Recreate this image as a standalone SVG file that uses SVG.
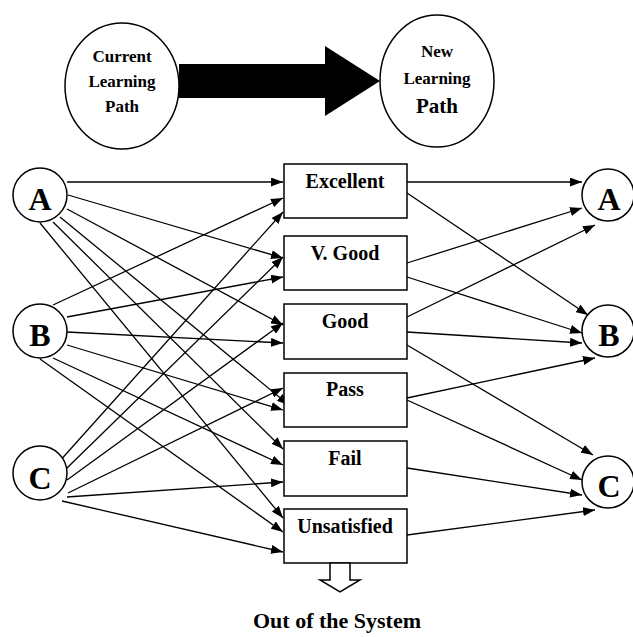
<svg xmlns="http://www.w3.org/2000/svg" width="633" height="637" viewBox="0 0 633 637">
<defs>
<marker id="ah" markerWidth="12" markerHeight="9" refX="12" refY="4.5" orient="auto" markerUnits="userSpaceOnUse">
<path d="M0,0 L12,4.5 L0,9 Z" fill="#000"/>
</marker>
<style>
.n{fill:#fff;stroke:#000;stroke-width:1.5}
.t{font-family:"Liberation Serif","Times New Roman",serif;font-weight:bold;fill:#000;text-anchor:middle}
.lbl{font-size:20px}
.big{font-size:32px}
.c line{stroke:#000;stroke-width:1.3;marker-end:url(#ah)}
</style>
</defs>
<rect width="633" height="637" fill="#fff"/>
<g id="current">
<ellipse class="n" cx="122" cy="86" rx="57" ry="63"/>
<text class="t" x="122" y="62" font-size="17">Current</text>
<text class="t" x="122" y="87" font-size="17">Learning</text>
<text class="t" x="122" y="112" font-size="17">Path</text>
</g>
<g id="bigarrow">
<polygon points="179,64 325,64 325,46 380,81 325,116 325,98 179,98" fill="#000"/>
</g>
<g id="new">
<ellipse class="n" cx="437" cy="81" rx="57" ry="66"/>
<text class="t" x="437" y="57" font-size="17">New</text>
<text class="t" x="437" y="84" font-size="17">Learning</text>
<text class="t" x="437" y="113" font-size="21">Path</text>
</g>
<g class="c" id="connectors">
<line x1="67" y1="182" x2="283" y2="182"/>
<line x1="68" y1="195" x2="283" y2="258"/>
<line x1="67" y1="209" x2="283" y2="325"/>
<line x1="60" y1="217" x2="289" y2="405"/>
<line x1="53" y1="222" x2="283" y2="449"/>
<line x1="40" y1="223" x2="283" y2="518"/>
<line x1="53" y1="305" x2="283" y2="198"/>
<line x1="67" y1="317" x2="283" y2="277"/>
<line x1="67" y1="332" x2="283" y2="343"/>
<line x1="67" y1="345" x2="283" y2="410"/>
<line x1="53" y1="358" x2="283" y2="465"/>
<line x1="40" y1="359" x2="283" y2="532"/>
<line x1="58" y1="463" x2="283" y2="212"/>
<line x1="67" y1="468" x2="283" y2="257"/>
<line x1="67" y1="480" x2="283" y2="323"/>
<line x1="68" y1="493" x2="283" y2="388"/>
<line x1="67" y1="497" x2="283" y2="482"/>
<line x1="62" y1="501" x2="283" y2="552"/>
<line x1="407" y1="182" x2="582" y2="182"/>
<line x1="407" y1="193" x2="588" y2="315"/>
<line x1="407" y1="263" x2="582" y2="208"/>
<line x1="407" y1="277" x2="582" y2="333"/>
<line x1="407" y1="317" x2="595" y2="225"/>
<line x1="407" y1="332" x2="582" y2="343"/>
<line x1="407" y1="345" x2="593" y2="455"/>
<line x1="407" y1="398" x2="595" y2="358"/>
<line x1="407" y1="400" x2="582" y2="480"/>
<line x1="407" y1="468" x2="582" y2="495"/>
<line x1="407" y1="535" x2="595" y2="510"/>
</g>
<g id="srcA"><circle class="n" cx="40" cy="195" r="27"/><text class="t big" x="40" y="210">A</text></g>
<g id="srcB"><circle class="n" cx="40" cy="331" r="27"/><text class="t big" x="40" y="346">B</text></g>
<g id="srcC"><circle class="n" cx="40" cy="473" r="27"/><text class="t big" x="40" y="489">C</text></g>
<g id="excellent"><rect class="n" x="284" y="164" width="123" height="54"/><text class="t lbl" x="345" y="188">Excellent</text></g>
<g id="vgood"><rect class="n" x="284" y="236" width="123" height="54"/><text class="t lbl" x="345" y="260">V. Good</text></g>
<g id="good"><rect class="n" x="284" y="304" width="123" height="55"/><text class="t lbl" x="345" y="328">Good</text></g>
<g id="pass"><rect class="n" x="284" y="373" width="123" height="54"/><text class="t lbl" x="345" y="396">Pass</text></g>
<g id="fail"><rect class="n" x="284" y="441" width="123" height="55"/><text class="t lbl" x="345" y="465">Fail</text></g>
<g id="unsatisfied"><rect class="n" x="284" y="509" width="123" height="54"/><text class="t lbl" x="345" y="533">Unsatisfied</text></g>
<g id="dstA"><circle class="n" cx="608" cy="195" r="26"/><text class="t big" x="609" y="210">A</text></g>
<g id="dstB"><circle class="n" cx="608" cy="331" r="26"/><text class="t big" x="609" y="346">B</text></g>
<g id="dstC"><circle class="n" cx="608" cy="482" r="26"/><text class="t big" x="609" y="497">C</text></g>
<g id="out">
<polygon points="330,563 350,563 350,580 360,580 340,592 320,580 330,580" fill="#fff" stroke="#000" stroke-width="1.5"/>
<text class="t" x="337" y="628" font-size="22">Out of the System</text>
</g>
</svg>
